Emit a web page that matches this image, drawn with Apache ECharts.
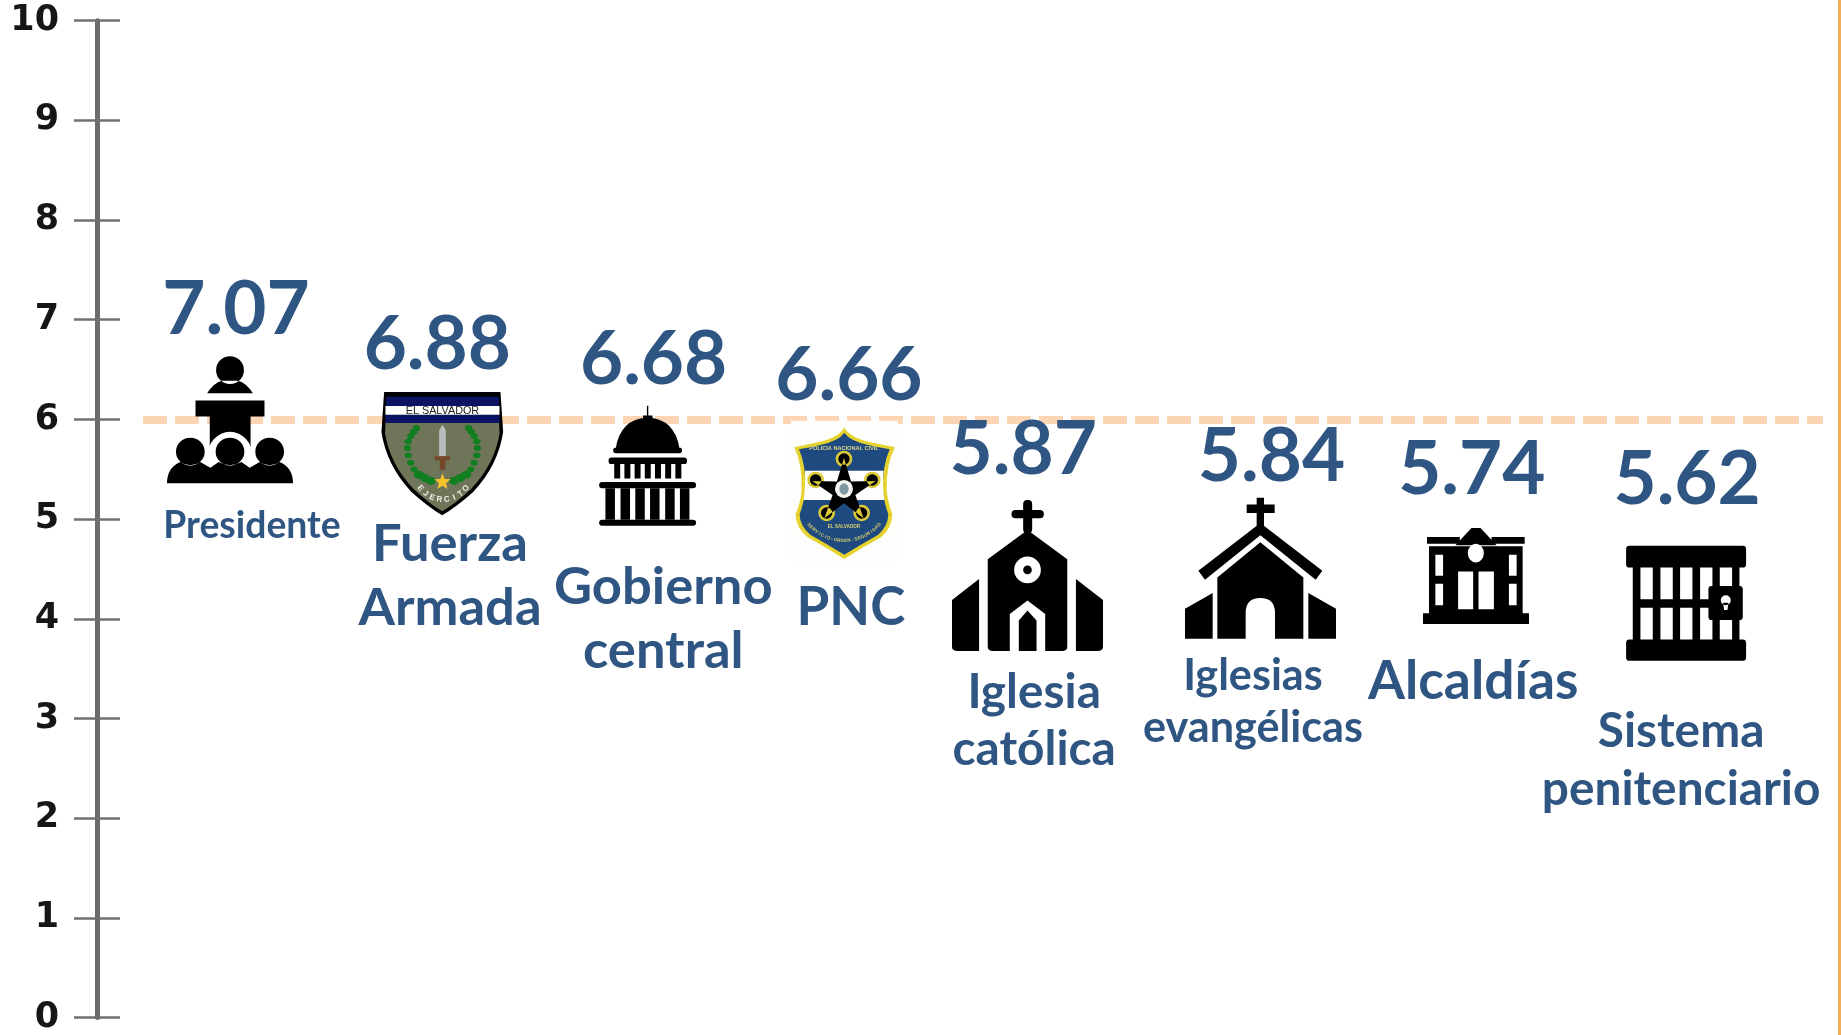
<!DOCTYPE html>
<html><head><meta charset="utf-8">
<script src="https://cdn.jsdelivr.net/npm/echarts@6/dist/echarts.min.js"></script>
<style>html,body{margin:0;padding:0;background:#fff}#c{width:1841px;height:1035px}</style>
</head><body><div id="c"></div>
<script>
// ---- data ----
const categories = ['Presidente','Fuerza\nArmada','Gobierno\ncentral','PNC','Iglesia\ncatólica','Iglesias\nevangélicas','Alcaldías','Sistema\npenitenciario'];
const values = [7.07,6.88,6.68,6.66,5.87,5.84,5.74,5.62];
const referenceLevel = 6;
const yMin = 0, yMax = 10, yStep = 1;

// ---- layout: pixel offsets from each item's (band centre, value) anchor ----
const valueOffsets = [[0,-2.5],[-6,13.5],[3,8.5],[-9,22.5],[-42,17.5],[-1,21.5],[-8,24.5],[0,22.5]];
const iconOffsets  = [[-6,107],[-1,122],[-3,114],[-13.6,137],[-37.7,143],[-12,133],[-3.8,130.6],[-1,146]];
const iconSizes    = [[126,127],[121.7,123.3],[97,120],[106.7,140],[151,151],[151,141],[106,96],[120,115]];
const nameOffsets  = [[16,213],[6.7,244],[12.7,267],[-7,254],[-31,289],[-19.5,267],[-6.6,236.6],[-6,303]];
const nameFonts    = [[37.3,44],[52.5,64],[52.5,64],[53,63],[47.8,57],[43.2,52],[53.3,63],[47.8,58]];
const BLUE = '#2f5582';

// ---- pictogram helpers ----
const rect = (x,y,w,h)=>`M${x} ${y}L${x+w} ${y}L${x+w} ${y+h}L${x} ${y+h}Z`;
const rr = (x,y,w,h,r)=>`M${x+r} ${y}L${x+w-r} ${y}Q${x+w} ${y} ${x+w} ${y+r}L${x+w} ${y+h-r}Q${x+w} ${y+h} ${x+w-r} ${y+h}L${x+r} ${y+h}Q${x} ${y+h} ${x} ${y+h-r}L${x} ${y+r}Q${x} ${y} ${x+r} ${y}Z`;
const ell = (cx,cy,rx,ry)=>`M${cx-rx} ${cy}A${rx} ${ry||rx} 0 1 0 ${cx+rx} ${cy}A${rx} ${ry||rx} 0 1 0 ${cx-rx} ${cy}Z`;
const star = (cx,cy,R,r)=>{let s='';for(let i=0;i<10;i++){const a=-Math.PI/2+i*Math.PI/5,q=i%2?r:R;s+=(i?'L':'M')+(cx+q*Math.cos(a)).toFixed(1)+' '+(cy+q*Math.sin(a)).toFixed(1);}return s+'Z';};
// letters set along the lower arc of a circle (decorative lettering on the badges)
const arcText = (str,cx,cy,R,t0,t1,size,fill)=>str.split('').map((ch,i,a)=>{
  const th=t0+(t1-t0)*i/(a.length-1);
  return {t:ch,u:cx+R*Math.sin(th),v:cy+R*Math.cos(th),size,fill,weight:'bold',rot:th};
});
const K='#000', W='#fff';
const laurel=[[105,108],[97,119],[88,132],[80,148],[78,168],[80,190],[88,212],[98,232],[112,248],[130,258],[148,266]];
const pncRings=[[159,115],[74,178],[244,178],[107,277],[212,277]];
const icons = [
 {vw:378,vh:382,layers:[
  [K, ell(189,40,42,42)+'M120 110Q140 78 165 72L213 72Q238 78 258 110Z'+rect(85,132,208,48)+rect(128,180,123,112)],
  [W, ell(189,302,68,75)],
  [K, ell(70,287,43,42)+ell(189,287,43,42)+ell(308,287,43,42)+'M0 382Q0 335 40 318Q70 338 100 318L130 335L155 318Q189 338 223 318L248 335L278 318Q308 338 338 318Q378 335 378 382Z']
 ]},
 {vw:365,vh:370,layers:[
  [K,'M8 0L357 0L365 120Q350 220 275 300Q225 345 182 370Q140 345 90 300Q15 220 0 120Z'],
  ['#6f7559','M12 90L353 90L354 125Q340 215 268 292Q222 335 182 358Q143 335 97 292Q25 215 11 125Z'],
  ['#0b1464',rect(14,14,338,28)+rect(12,68,342,25)],
  [W,rect(12,42,342,26)],
  ['#0f7f1f',laurel.map((p,i)=>{const r=i>7?15:11;return ell(p[0],p[1],r,r*0.8)+ell(366-p[0],p[1],r,r*0.8);}).join('')],
  ['#b9bdbd','M183 98L193 115L193 193L173 193L173 115Z'],
  ['#74472a',rect(160,193,46,12)+rect(175,205,17,28)],
  ['#f5c42c',star(183,270,26,11)]
 ],texts:[
  {t:'EL SALVADOR',u:183,v:56,size:10.8,fill:'#222'}
 ].concat(arcText('EJERCITO',185,237,86,-0.92,0.92,8,'#f2f2ea'))},
 {vw:276,vh:366,layers:[
  [K,rect(136,0,4,32)+rect(125,30,27,14)+'M47 132Q60 40 138 36Q216 40 229 132Z'+rr(40,128,196,17,8)+rr(27,158,223,20,8)+rr(0,233,276,19,9)+rr(0,348,276,18,9)],
  [K,[43,72,101,130,159,188,217].map(x=>rect(x,178,17,44)).join('')],
  [K,[18,61,103,145,188,230].map(x=>rect(x,252,27,96)).join('')]
 ]},
 {vw:320,vh:420,layers:[
  ['#fdfdfb',rect(0,0,320,420)],
  ['#e6d22c','M160 20Q175 50 232 63Q275 72 312 80Q285 130 287 210Q292 250 304 280Q304 320 270 350Q215 380 160 415Q105 380 50 350Q14 320 14 280Q28 250 32 210Q35 130 10 80Q45 72 88 63Q145 50 160 20Z'],
  ['#1f4a80','M160 36Q176 60 232 73Q265 81 296 86Q274 135 276 210Q280 250 292 280Q292 315 262 342Q212 370 160 402Q108 370 58 342Q26 315 26 280Q38 250 43 210Q46 135 24 86Q55 81 88 73Q144 60 160 36Z'],
  [W,'M42 150L278 150Q274 190 280 238L38 238Q44 190 42 150Z'],
  ['#d9c93a',pncRings.map(p=>ell(p[0],p[1],25)).join('')],
  [K,star(159,212,100,36)+pncRings.map(p=>ell(p[0],p[1],17)).join('')],
  ['#f4f4ee',ell(159,205,27)],
  ['#7f99a3',ell(159,205,14,17)]
 ],texts:[
  {t:'POLICIA NACIONAL CIVIL',u:159,v:83,size:5.6,fill:'#dcd690',weight:'bold'},
  {t:'EL SALVADOR',u:159,v:318,size:4.6,fill:'#dcd06a',weight:'bold'}
 ].concat(arcText('SERVICIO-ORDEN-SEGURIDAD',159,220,140,-0.85,0.85,4.6,'#dcd06a'))},
 {vw:452,vh:453,layers:[
  [K,rr(213,0,27,100,12)+rr(178,30,97,25,12)],
  [K,'M226 90L345 178L345 440Q345 453 332 453L120 453Q107 453 107 440L107 178Z'+'M0 300L81 237L81 453L14 453Q0 453 0 440Z'+'M371 237L452 300L452 440Q452 453 438 453L371 453Z'],
  [W,ell(226,210,40)+'M173 453L173 342L226 302L279 342L279 453Z'],
  [K,ell(226,210,13)+'M200 453L200 362L226 332L253 362L253 453Z']
 ]},
 {vw:453,vh:422,layers:[
  [K,rect(215,0,22,85)+rect(185,20,84,25)],
  [K,'M226 75L412 218L392 245L226 112L60 245L40 218Z'],
  [K,'M226 133L355 238L355 422L270 422L270 345Q270 300 226 300Q182 300 182 345L182 422L97 422L97 238Z'],
  [K,'M0 332L83 285L83 422L0 422Z'+'M370 285L453 332L453 422L370 422Z']
 ]},
 {vw:317,vh:287,layers:[
  [K,'M145 0L172 0L220 52L97 52Z'+rect(12,27,98,20)+rect(205,27,99,20)+rect(18,55,280,205)+rect(0,255,317,32)],
  [W,ell(158,75,24,28)+rect(37,80,23,63)+rect(37,167,23,64)+rect(257,80,23,63)+rect(257,167,23,64)+rect(105,130,45,113)+rect(166,130,46,113)]
 ]},
 {vw:360,vh:344,layers:[
  [K,rr(20,40,320,264,0)+rr(0,0,360,65,10)+rr(0,280,360,64,10)],
  [W,[43,103,162,222,281].map(x=>rect(x,65,37,95)+rect(x,185,37,95)).join('')],
  [K,rr(247,120,103,102,10)],
  [W,ell(299,163,15)+'M291 170L307 170L304 192L294 192Z']
 ]}
];

function renderItem(params, api){
  const i = params.dataIndex;
  const p = api.coord([api.value(0), api.value(1)]);
  const children = [];
  const ic = icons[i], sz = iconSizes[i];
  const left = p[0]+iconOffsets[i][0]-sz[0]/2, top = p[1]+iconOffsets[i][1]-sz[1]/2;
  const sx = sz[0]/ic.vw, sy = sz[1]/ic.vh;
  children.push({type:'group',x:left,y:top,scaleX:sx,scaleY:sy,
    children: ic.layers.map(l=>({type:'path',
      shape:{pathData:`M0 0M${ic.vw} ${ic.vh}`+l[1],x:0,y:0,width:ic.vw,height:ic.vh},
      style:{fill:l[0],stroke:null}}))});
  (ic.texts||[]).forEach(t=>children.push({type:'text',x:left+t.u*sx,y:top+t.v*sy,rotation:t.rot||0,
    style:{text:t.t,fontSize:t.size,fontFamily:'Liberation Sans',fontWeight:t.weight||'normal',fill:t.fill,align:'center',verticalAlign:'middle'}}));
  children.push({type:'text',x:p[0]+valueOffsets[i][0],y:p[1]+valueOffsets[i][1],
    style:{text:values[i].toFixed(2),fontSize:74.5,fontFamily:'Lato',fontWeight:'bold',fill:BLUE,align:'center',verticalAlign:'middle'}});
  children.push({type:'text',x:p[0]+nameOffsets[i][0],y:p[1]+nameOffsets[i][1],
    style:{text:categories[i],fontSize:nameFonts[i][0],lineHeight:nameFonts[i][1],fontFamily:'Lato',fontWeight:'bold',fill:BLUE,align:'center',verticalAlign:'middle'}});
  return {type:'group',children};
}

const chart = echarts.init(document.getElementById('c'),null,{renderer:'canvas'});
const tickLen = 23, axisOffset = 35.35;
const axisBase = {type:'value',min:yMin,max:yMax,interval:yStep,position:'left',offset:axisOffset,splitLine:{show:false}};
chart.setOption({
  animation:false,
  backgroundColor:'#fff',
  grid:{left:132.35,right:50.25,top:20.7,bottom:14,containLabel:false},
  xAxis:{type:'category',data:categories.map(c=>c.replace('\n',' ')),show:false},
  yAxis:[
    Object.assign({},axisBase,{
      axisLine:{show:true,lineStyle:{color:'#6b6b6b',width:5}},
      axisTick:{show:true,length:tickLen,lineStyle:{color:'#707070',width:2.5}},
      axisLabel:{show:true,margin:38,padding:[4,0,0,0],color:'#161616',fontSize:35,fontWeight:'bold',fontFamily:'DejaVu Sans'}
    }),
    Object.assign({},axisBase,{
      axisLine:{show:false},
      axisTick:{show:true,inside:true,length:tickLen,lineStyle:{color:'#707070',width:2.5}},
      axisLabel:{show:false}
    })
  ],
  series:[{
    type:'custom',
    coordinateSystem:'cartesian2d',
    xAxisIndex:0,yAxisIndex:0,
    z:3,
    clip:false,
    data:values.map((v,i)=>[i,v]),
    encode:{x:0,y:1},
    renderItem,
    markLine:{
      silent:true,z:1,symbol:'none',animation:false,label:{show:false},
      lineStyle:{color:'#fcd5b4',type:[24,8],width:8},
      data:[[{x:143,yAxis:referenceLevel},{x:1823,yAxis:referenceLevel}]]
    }
  }],
  graphic:[{type:'rect',right:0,top:0,z:10,shape:{width:3,height:1035},style:{fill:'#f0ad5a'}}]
});
</script></body></html>
